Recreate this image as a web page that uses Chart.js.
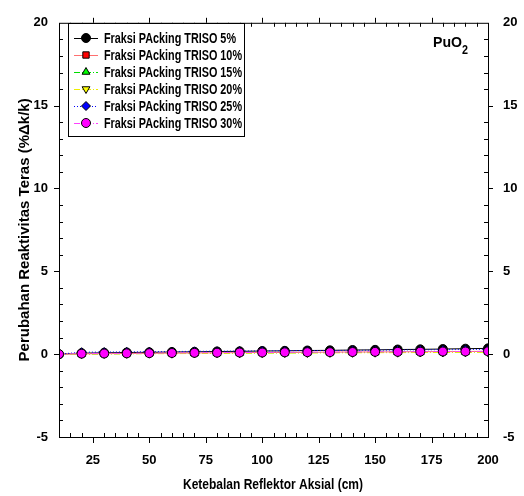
<!DOCTYPE html>
<html>
<head>
<meta charset="utf-8">
<script src="https://cdn.jsdelivr.net/npm/chart.js@4.4.0/dist/chart.umd.min.js"></script>
<style>
  html, body { margin: 0; padding: 0; background: #fff; }
</style>
</head>
<body>
<canvas id="c" width="524" height="496"></canvas>
<script>
// reflector thickness (cm)
const thickness = [10, 20, 30, 40, 50, 60, 70, 80, 90, 100, 110, 120, 130, 140, 150, 160, 170, 180, 190, 200];
const xTicks = [25, 50, 75, 100, 125, 150, 175, 200];
const yTicks = [-5, 0, 5, 10, 15, 20];

// reactivity change (%dk/k) per packing fraction
const pf5  = [0, 0.06, 0.08, 0.10, 0.11, 0.13, 0.14, 0.16, 0.17, 0.19, 0.20, 0.22, 0.23, 0.25, 0.26, 0.28, 0.29, 0.31, 0.33, 0.35];
const pf10 = [0, 0.02, 0.03, 0.04, 0.05, 0.06, 0.07, 0.08, 0.09, 0.10, 0.10, 0.11, 0.12, 0.13, 0.13, 0.14, 0.15, 0.15, 0.16, 0.17];
const pf15 = [0, 0.01, 0.02, 0.03, 0.04, 0.05, 0.05, 0.06, 0.07, 0.08, 0.08, 0.09, 0.10, 0.10, 0.11, 0.12, 0.12, 0.13, 0.13, 0.14];
const pf20 = [0, 0.00, 0.01, 0.02, 0.03, 0.03, 0.04, 0.05, 0.05, 0.06, 0.07, 0.07, 0.08, 0.08, 0.09, 0.09, 0.10, 0.10, 0.11, 0.11];
const pf25 = [0, 0.12, 0.13, 0.14, 0.15, 0.16, 0.17, 0.18, 0.19, 0.20, 0.21, 0.22, 0.22, 0.23, 0.24, 0.25, 0.26, 0.27, 0.28, 0.29];
const pf30 = [0, 0.03, 0.04, 0.05, 0.06, 0.07, 0.08, 0.09, 0.10, 0.10, 0.11, 0.12, 0.12, 0.13, 0.14, 0.14, 0.15, 0.16, 0.16, 0.17];

const labels = ['Fraksi PAcking TRISO 5%', 'Fraksi PAcking TRISO 10%', 'Fraksi PAcking TRISO 15%',
                'Fraksi PAcking TRISO 20%', 'Fraksi PAcking TRISO 25%', 'Fraksi PAcking TRISO 30%'];
const xTitle = 'Ketebalan Reflektor Aksial (cm)';
const yTitle = 'Perubahan Reaktivitas Teras (%Δk/k)';

const FONT = '"Liberation Sans", Arial, sans-serif';

function series(i, data, line, fill, style, dash, rot) {
    return {
        label: labels[i],
        order: 5 - i, // last series drawn on top
        data: thickness.map((x, k) => ({ x: x, y: data[k] })),
        borderColor: line,
        borderWidth: 1,
        borderDash: dash,
        backgroundColor: fill,
        pointStyle: style,
        pointRotation: rot || 0,
        pointRadius: 4.5,
        pointBorderColor: '#000',
        pointBorderWidth: 1,
        pointBackgroundColor: fill,
        tension: 0
    };
}

const datasets = [
    series(0, pf5,  '#000000', '#000000', 'circle', []),
    series(1, pf10, '#ff7070', '#ff0000', 'rect', []),
    series(2, pf15, '#00dd00', '#00ff00', 'triangle', [6, 2, 1, 2]),
    series(3, pf20, '#eeee00', '#ffff00', 'triangle', [6, 2, 1, 2], 180),
    series(4, pf25, '#0000ff', '#0000ff', 'rectRot', [1, 2]),
    series(5, pf30, '#ff40ff', '#ff00ff', 'circle', [6, 2, 1, 2])
];

// condensed text: squeeze horizontally to a given width
function squeezeText(c, text, x, y, width) {
    const w = c.measureText(text).width;
    c.save();
    c.translate(x, y);
    c.scale(Math.min(1, width / w), 1);
    c.fillText(text, 0, 0);
    c.restore();
}

// frame with ticks on all four sides, legend box, x title and PuO2 label
const decor = {
    id: 'decor',
    afterDraw(chart) {
        const c = chart.ctx;
        const a = chart.chartArea;
        const xs = chart.scales.x, ys = chart.scales.y;
        c.save();
        c.strokeStyle = '#000';
        c.lineWidth = 1;
        c.strokeRect(a.left + 0.5, a.top + 0.5, a.right - a.left, a.bottom - a.top);
        c.beginPath();
        for (let v = 15; v < 200; v += 5) {
            const px = Math.round(xs.getPixelForValue(v)) + 0.5;
            if (v % 25 === 0) {
                c.moveTo(px, a.bottom); c.lineTo(px, a.bottom + 6);
                c.moveTo(px, a.top); c.lineTo(px, a.top - 5);
            } else {
                c.moveTo(px, a.bottom); c.lineTo(px, a.bottom - 4);
                c.moveTo(px, a.top); c.lineTo(px, a.top + 4);
            }
        }
        for (let v = -4; v < 20; v += 1) {
            const py = Math.round(ys.getPixelForValue(v)) + 0.5;
            if (v % 5 === 0) {
                c.moveTo(a.left, py); c.lineTo(a.left - 5, py);
                c.moveTo(a.right, py); c.lineTo(a.right + 5, py);
            } else {
                c.moveTo(a.left, py); c.lineTo(a.left + 4, py);
                c.moveTo(a.right, py); c.lineTo(a.right - 4, py);
            }
        }
        c.stroke();

        // legend
        const bx = 68, by = 23, bw = 176, bh = 113;
        c.fillStyle = '#fff';
        c.fillRect(bx, by, bw, bh);
        c.strokeRect(bx + 0.5, by + 0.5, bw, bh);
        chart.data.datasets.forEach((ds, i) => {
            const y = 38 + i * 17;
            c.save();
            c.strokeStyle = ds.borderColor;
            c.setLineDash(ds.borderDash);
            c.beginPath();
            c.moveTo(74, y + 0.5); c.lineTo(98, y + 0.5);
            c.stroke();
            c.restore();
            c.save();
            c.fillStyle = ds.pointBackgroundColor;
            c.strokeStyle = '#000';
            Chart.helpers.drawPoint(c, {
                pointStyle: ds.pointStyle, rotation: ds.pointRotation,
                radius: 4.5, borderWidth: 1
            }, 86, y);
            c.restore();
            c.fillStyle = '#000';
            c.font = 'bold 14px ' + FONT;
            c.textBaseline = 'middle';
            c.textAlign = 'left';
            squeezeText(c, ds.label, 104, y + 1, i === 0 ? 132 : 138);
        });

        // x axis title
        c.fillStyle = '#000';
        c.font = 'bold 15px ' + FONT;
        c.textAlign = 'left';
        c.textBaseline = 'middle';
        squeezeText(c, xTitle, 183, 485, 180);

        // PuO2
        c.font = 'bold 15px ' + FONT;
        squeezeText(c, 'PuO', 433, 43, 29);
        c.font = 'bold 12px ' + FONT;
        squeezeText(c, '2', 462, 51, 6);
        c.restore();
    }
};

const tickFont = { family: FONT, size: 13, weight: 'bold' };

new Chart(document.getElementById('c'), {
    type: 'line',
    data: { datasets: datasets },
    options: {
        responsive: false,
        animation: false,
        layout: { padding: { top: 16, left: 12, right: 0, bottom: 0 } },
        plugins: { legend: { display: false }, tooltip: { enabled: false } },
        scales: {
            x: {
                type: 'linear', min: 10, max: 200,
                afterBuildTicks: s => { s.ticks = xTicks.map(v => ({ value: v })); },
                afterFit: s => { s.height = 59; },
                grid: { display: false, drawTicks: false },
                border: { display: false },
                ticks: { color: '#000', font: tickFont, padding: 16, maxRotation: 0 }
            },
            y: {
                type: 'linear', min: -5, max: 20, position: 'left',
                afterBuildTicks: s => { s.ticks = yTicks.map(v => ({ value: v })); },
                afterFit: s => { s.width = 47; },
                grid: { display: false, drawTicks: false },
                border: { display: false },
                ticks: { color: '#000', font: tickFont, padding: 11 },
                title: { display: true, text: yTitle, color: '#000',
                         font: { family: FONT, size: 15, weight: 'bold' }, padding: { top: 4, bottom: 4 } }
            },
            y2: {
                type: 'linear', min: -5, max: 20, position: 'right',
                afterBuildTicks: s => { s.ticks = yTicks.map(v => ({ value: v })); },
                afterFit: s => { s.width = 36; },
                grid: { display: false, drawTicks: false },
                border: { display: false },
                ticks: { color: '#000', font: tickFont, padding: 15 }
            }
        }
    },
    plugins: [decor]
});
</script>
</body>
</html>
